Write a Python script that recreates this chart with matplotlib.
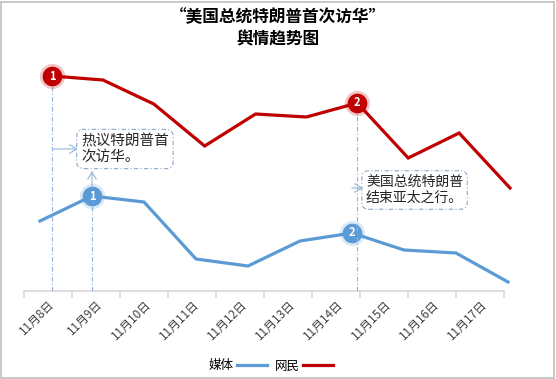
import matplotlib
matplotlib.use("Agg")
import matplotlib.pyplot as plt
from matplotlib.patches import Rectangle, FancyArrowPatch

plt.rcParams['font.family'] = ['Noto Sans CJK SC', 'DejaVu Sans']

categories = ["11月8日", "11月9日", "11月10日", "11月11日", "11月12日",
              "11月13日", "11月14日", "11月15日", "11月16日", "11月17日"]
media = [70, 95, 89, 32, 25, 50, 58, 41, 38, 9]
netizens = [215, 211, 187, 145, 177, 174, 188, 133, 158, 103]
title_lines = ["“美国总统特朗普首次访华”", "舆情趋势图"]
note1 = "热议特朗普首\n次访华。"
note2 = "美国总统特朗普\n结束亚太之行。"

W, H = 556, 379
fig = plt.figure(figsize=(W / 100, H / 100), dpi=100)

def fx(x):
    return x / W

def fy(y):
    return 1 - y / H

BLUE = '#5B9BD5'
RED = '#C00000'
GUIDE = '#8FB0D6'

# frame
fig.patches.append(Rectangle((0.002, 0.003), 0.995, 0.993, transform=fig.transFigure,
                             fill=False, edgecolor='#BFBFBF', linewidth=1.2))

pos = [fx(24), fy(291), fx(504) - fx(24), fy(60) - fy(291)]
ax = fig.add_axes(pos)
n = len(categories)
ax.set_xlim(-0.5, n - 0.5)
ax.set_ylim(0, 231)
for s in ['top', 'right', 'left']:
    ax.spines[s].set_visible(False)
ax.spines['bottom'].set_color('#D9D9D9')
ax.spines['bottom'].set_linewidth(1.2)
ax.set_yticks([])
ax.set_xticks(range(n))
ax.set_xticklabels(categories, rotation=45, ha='right', va='top',
                   rotation_mode='anchor', fontsize=8.5, color='#404040')
ax.tick_params(axis='x', which='major', length=0, pad=5)
ax.set_xticks([i - 0.5 for i in range(n + 1)], minor=True)
ax.tick_params(axis='x', which='minor', length=5, color='#D9D9D9', width=1.2)

# blue axes
axb = fig.add_axes(pos)
axb.set_xlim(-16 / 52, 9 + (504 - 508) / 52)
axb.set_ylim(0, 231)
axb.axis('off')
axb.patch.set_alpha(0)
# red axes
axr = fig.add_axes(pos)
axr.set_xlim(-28 / 50.9, 9 + (504 - 510) / 50.9)
axr.set_ylim(0, 231)
axr.axis('off')
axr.patch.set_alpha(0)

xs = list(range(n))
lb, = axb.plot(xs, media, color=BLUE, linewidth=2.3, clip_on=False, solid_joinstyle='miter')
lr, = axr.plot(xs, netizens, color=RED, linewidth=2.3, clip_on=False, solid_joinstyle='miter')

# guide lines
dash = (0, (4, 2, 1, 2))
axr.plot([0, 0], [0, netizens[0]], color=GUIDE, linestyle=dash, linewidth=0.8, zorder=1)
axr.plot([6, 6], [0, netizens[6]], color=GUIDE, linestyle=dash, linewidth=0.8, zorder=1)
axb.plot([1, 1], [0, media[1]], color=GUIDE, linestyle=dash, linewidth=0.8, zorder=1)

# markers with glow
def badge(a, x, y, color, label):
    a.scatter([x], [y], s=330, color=color, alpha=0.22, zorder=4, linewidths=0, clip_on=False)
    a.scatter([x], [y], s=200, color=color, zorder=5, linewidths=0, clip_on=False)
    a.text(x, y, label, color='white', fontsize=8, ha='center', va='center', zorder=6,
           fontweight='bold')

badge(axr, 0, netizens[0], RED, '1')
badge(axr, 6, netizens[6], RED, '2')
badge(axb, 1, media[1], BLUE, '1')
badge(axb, 6, media[6], BLUE, '2')

# callout boxes
box_kw = dict(boxstyle='round,pad=0.3,rounding_size=0.5', facecolor='white',
              edgecolor='#8EA9C8', linestyle=dash, linewidth=0.8)
fig.text(fx(81), fy(149), note1, fontsize=10.5, ha='left', va='center', color='#262626',
         linespacing=1.2, bbox=box_kw)
fig.text(fx(366), fy(190), note2, fontsize=10, ha='left', va='center', color='#262626',
         linespacing=1.2, bbox=box_kw)

arrow_kw = dict(arrowstyle='->,head_length=0.5,head_width=0.3', color=GUIDE,
                linestyle=(0, (1, 1)), linewidth=0.9, shrinkA=0, shrinkB=0, mutation_scale=10)
fig.add_artist(FancyArrowPatch((fx(54), fy(149)), (fx(78), fy(149)),
               transform=fig.transFigure, **arrow_kw))
fig.add_artist(FancyArrowPatch((fx(352), fy(188)), (fx(363), fy(188)),
               transform=fig.transFigure, **arrow_kw))
fig.add_artist(FancyArrowPatch((fx(92), fy(186)), (fx(92), fy(171)),
               transform=fig.transFigure, **arrow_kw))

# title
fig.text(0.5, fy(17), title_lines[0], fontsize=12, fontweight='bold', ha='center', va='center')
fig.text(0.5, fy(39), title_lines[1], fontsize=12, fontweight='bold', ha='center', va='center')

# legend
fig.legend([lb, lr], ['媒体', '网民'], loc='center left', bbox_to_anchor=(fx(197), fy(366)),
           ncol=2, frameon=False, markerfirst=False, fontsize=9, handlelength=2.4,
           columnspacing=0.6, handletextpad=0.3)

fig.savefig('out.png', dpi=100)
